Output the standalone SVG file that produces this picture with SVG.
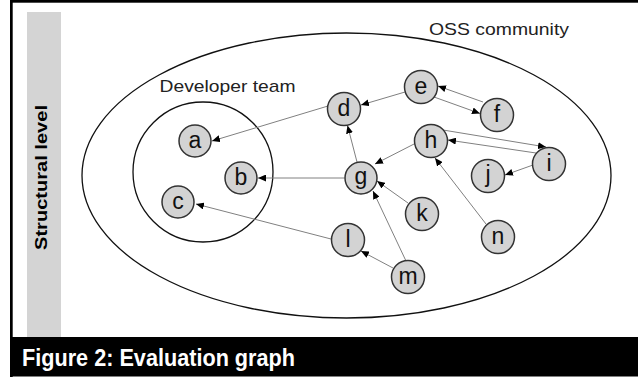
<svg xmlns="http://www.w3.org/2000/svg" width="638" height="382" viewBox="0 0 638 382">
<style>
.node circle{fill:#d3d3d3;stroke:#333;stroke-width:1.5}
.node text{font-family:"Liberation Sans",Arial,sans-serif;font-size:23px;fill:#111;text-anchor:middle}
.edge{stroke:#808080;stroke-width:1;fill:none;marker-end:url(#arr)}
.lbl{font-family:"Liberation Sans",Arial,sans-serif;fill:#222}
</style>
<defs>
<marker id="arr" markerWidth="8" markerHeight="7" refX="8" refY="3.5" orient="auto" markerUnits="userSpaceOnUse">
<path d="M0,0 L8,3.5 L0,7 z" fill="#000"/>
</marker>
</defs>
<rect x="0" y="0" width="638" height="382" fill="#fff"/>
<g id="frame">
<rect x="10" y="0" width="628" height="2.7" fill="#000"/>
<rect x="10" y="0" width="2.7" height="377" fill="#000"/>
<rect x="27" y="12" width="34" height="325" fill="#d4d4d4"/>
<text x="0" y="0" transform="translate(46.5,177.5) rotate(-90)" text-anchor="middle" font-family="'Liberation Sans',Arial,sans-serif" font-weight="bold" font-size="16.5" textLength="145" lengthAdjust="spacingAndGlyphs" fill="#000">Structural level</text>
<rect x="10" y="337" width="628" height="39.5" fill="#000"/>
<text x="22" y="366" font-family="'Liberation Sans',Arial,sans-serif" font-weight="bold" font-size="24" textLength="273" lengthAdjust="spacingAndGlyphs" fill="#fff">Figure 2: Evaluation graph</text>
</g>
<g id="oss">
<ellipse cx="346.5" cy="175.5" rx="264.5" ry="142.5" fill="none" stroke="#111" stroke-width="1.3"/>
<text class="lbl" x="429" y="34.5" font-size="17" textLength="140" lengthAdjust="spacingAndGlyphs">OSS community</text>
</g>
<g id="devteam">
<circle cx="203" cy="172" r="70" fill="none" stroke="#111" stroke-width="1.3"/>
<text class="lbl" x="159.5" y="91.7" font-size="17" textLength="136" lengthAdjust="spacingAndGlyphs">Developer team</text>
</g>
<g id="connectors">
<line class="edge" x1="328" y1="106" x2="212" y2="141"/>
<line class="edge" x1="405" y1="92" x2="361" y2="105"/>
<line class="edge" x1="483" y1="102" x2="438" y2="86"/>
<line class="edge" x1="434" y1="97" x2="480" y2="113.5"/>
<line class="edge" x1="357" y1="162" x2="347.5" y2="125.5"/>
<line class="edge" x1="344.5" y1="178" x2="258" y2="178"/>
<line class="edge" x1="416" y1="143" x2="375" y2="164"/>
<line class="edge" x1="408" y1="203" x2="377" y2="181"/>
<line class="edge" x1="406" y1="261" x2="373" y2="191"/>
<line class="edge" x1="393" y1="268" x2="361" y2="251"/>
<line class="edge" x1="331" y1="239" x2="196" y2="204"/>
<line class="edge" x1="486" y1="224" x2="435" y2="158"/>
<line class="edge" x1="443" y1="130" x2="546" y2="147"/>
<line class="edge" x1="536" y1="153" x2="448" y2="140"/>
<line class="edge" x1="533" y1="165" x2="505" y2="175"/>
</g>
<g id="node-a" class="node"><circle cx="195" cy="141" r="16"/><text x="195" y="148">a</text></g>
<g id="node-b" class="node"><circle cx="241" cy="178" r="16"/><text x="241" y="185">b</text></g>
<g id="node-c" class="node"><circle cx="178" cy="202" r="16"/><text x="178" y="209">c</text></g>
<g id="node-d" class="node"><circle cx="344" cy="109" r="16.5"/><text x="344" y="116">d</text></g>
<g id="node-e" class="node"><circle cx="421" cy="87" r="16.5"/><text x="421" y="94">e</text></g>
<g id="node-f" class="node"><circle cx="497" cy="115" r="16.5"/><text x="497" y="122">f</text></g>
<g id="node-g" class="node"><circle cx="361" cy="178" r="16"/><text x="361" y="184">g</text></g>
<g id="node-h" class="node"><circle cx="431" cy="141" r="16.5"/><text x="431" y="148">h</text></g>
<g id="node-i" class="node"><circle cx="549" cy="164" r="16.5"/><text x="549" y="171">i</text></g>
<g id="node-j" class="node"><circle cx="488" cy="176" r="16.5"/><text x="488" y="182">j</text></g>
<g id="node-k" class="node"><circle cx="422" cy="214" r="16.5"/><text x="422" y="221">k</text></g>
<g id="node-l" class="node"><circle cx="348" cy="240" r="16.5"/><text x="348" y="247">l</text></g>
<g id="node-m" class="node"><circle cx="408" cy="277" r="16.5"/><text x="408" y="284">m</text></g>
<g id="node-n" class="node"><circle cx="498" cy="237" r="16.5"/><text x="498" y="244">n</text></g>
</svg>
